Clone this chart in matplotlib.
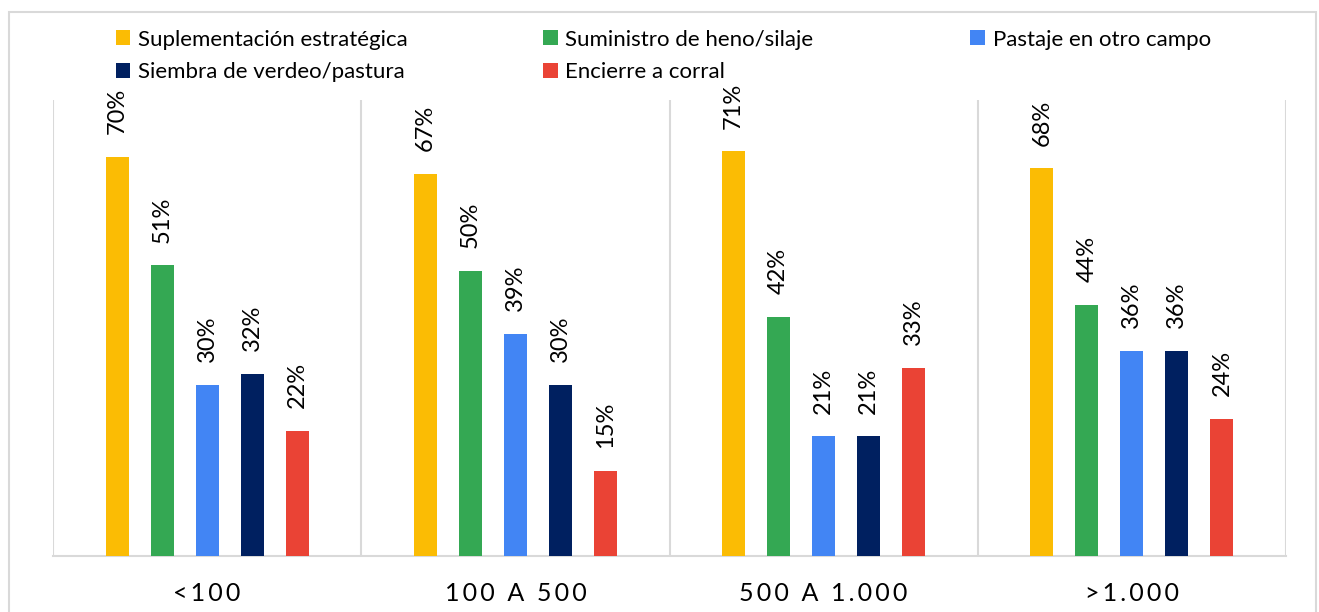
import numpy as np
import matplotlib.pyplot as plt
from matplotlib.patches import Rectangle

plt.rcParams['font.family'] = ['Lato', 'DejaVu Sans']

categories = ['<100', '100 A 500', '500 A 1.000', '>1.000']
series_names = ['Suplementación estratégica', 'Suministro de heno/silaje',
                'Pastaje en otro campo', 'Siembra de verdeo/pastura',
                'Encierre a corral']
colors = ['#FBBC04', '#34A853', '#4285F4', '#002060', '#EA4335']
suplementacion = [70, 67, 71, 68]
heno = [51, 50, 42, 44]
pastaje = [30, 39, 21, 36]
siembra = [32, 30, 21, 36]
encierre = [22, 15, 33, 24]
values = [suplementacion, heno, pastaje, siembra, encierre]

fig = plt.figure(figsize=(13.19, 6.12), dpi=100)
ax = fig.add_axes([0.0402, 0.0915, 0.9348, 0.7451])

x = np.arange(len(categories))
step = 0.146
width = 0.075
for i in range(len(series_names)):
    pos = x + (i - 2) * step
    ax.bar(pos, values[i], width, color=colors[i], label=series_names[i], zorder=3)
    for px, v in zip(pos, values[i]):
        ax.text(px, v + 4.0, '%d%%' % v, rotation=90, ha='center', va='bottom',
                fontsize=17, color='#000000')

ax.set_xlim(-0.5, 3.5)
ax.set_ylim(0, 80)
for b in np.arange(-0.5, 4.0, 1.0):
    ax.axvline(b, color='#d9d9d9', lw=1.5, zorder=1)
for s in ['top', 'right', 'left']:
    ax.spines[s].set_visible(False)
ax.spines['bottom'].set_color('#d9d9d9')
ax.spines['bottom'].set_linewidth(1.5)
ax.set_yticks([])
ax.set_xticks(x)
ax.set_xticklabels(['\u2009'.join(c) for c in categories], fontsize=18)
ax.tick_params(axis='x', length=0, pad=19)

handles, labels = ax.get_legend_handles_labels()
cols = [[0, 3], [1, 4], [2]]
xs = [0.081, 0.405, 0.729]
for col, lx in zip(cols, xs):
    lg = fig.legend([handles[k] for k in col], [labels[k] for k in col],
                    loc='upper left', bbox_to_anchor=(lx, 0.966), ncol=1,
                    frameon=False, fontsize=16, handlelength=0.65, handleheight=0.65,
                    handletextpad=0.35, labelspacing=0.55, borderaxespad=0)

fig.patches.append(Rectangle((0.007, -0.01), 0.991, 0.99, transform=fig.transFigure,
                             fill=False, edgecolor='#d9d9d9', lw=1.5))

fig.savefig('out.png', dpi=100)
